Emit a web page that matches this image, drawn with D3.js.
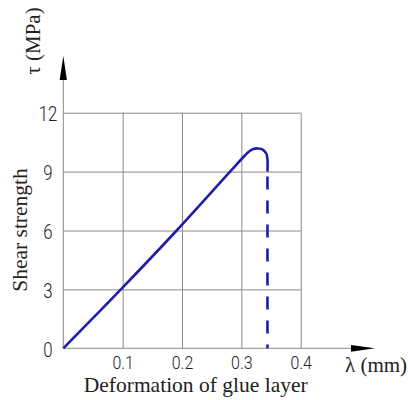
<!DOCTYPE html>
<html>
<head>
<meta charset="utf-8">
<script src="https://cdn.jsdelivr.net/npm/d3@7"></script>
<style>
  html, body { margin: 0; padding: 0; background: #fff; }
  svg { display: block; }
</style>
</head>
<body>
<svg id="chart" width="408" height="400"></svg>
<script>
// Shear strength vs. deformation of the glue layer
const lambdaTicks = [0.1, 0.2, 0.3, 0.4];
const tauTicks = [0, 3, 6, 9, 12];

// Loading curve (solid): linear rise, rounded peak, start of failure
const curveLambda = [0, 0.097, 0.191, 0.281, 0.306, 0.313, 0.320, 0.328, 0.336, 0.342, 0.344, 0.344];
const curveTau    = [0, 3.0,   6.0,   9.0,   9.82,  10.02, 10.15, 10.18, 10.12, 9.92,  9.62,  9.0];

// Failure drop (dashed)
const dropLambda = [0.344, 0.344];
const dropTau    = [9.0, 0];

const svg = d3.select("#chart");

const x = d3.scaleLinear().domain([0, 0.4]).range([63.3, 300.7]);
const y = d3.scaleLinear().domain([0, 12]).range([348.3, 112.7]);

const gridColor = "#8a8a8a";
const lineColor = "#1e1eaa";
const serif = "'Liberation Serif', 'Times New Roman', serif";
const tickFont = "Roboto, 'DejaVu Sans Condensed', sans-serif";

// condense tick labels to a narrow drafting look
function narrowLabels(sel) {
  sel.each(function () {
    const w = this.getComputedTextLength();
    d3.select(this)
      .attr("textLength", (w * 0.84).toFixed(1))
      .attr("lengthAdjust", "spacingAndGlyphs");
  });
}

// vertical grid lines + x tick labels
const xAxis = d3.axisBottom(x)
  .tickValues(lambdaTicks)
  .tickSize(-(y(0) - y(12)))
  .tickSizeOuter(0)
  .tickFormat(d3.format(".1f"));
const gx = svg.append("g")
  .attr("transform", `translate(0,${y(0)})`)
  .call(xAxis);
gx.select(".domain").remove();
gx.selectAll(".tick line").attr("stroke", gridColor).attr("stroke-width", 1);
gx.selectAll(".tick text")
  .attr("y", 21)
  .attr("dy", 0)
  .attr("font-family", tickFont)
  .attr("font-weight", 300)
  .attr("font-size", 19)
  .attr("fill", "#222")
  .call(narrowLabels);

// horizontal grid lines + y tick labels
const yAxis = d3.axisLeft(y)
  .tickValues(tauTicks)
  .tickSize(-(x(0.4) - x(0)))
  .tickSizeOuter(0)
  .tickFormat(d3.format("d"));
const gy = svg.append("g")
  .attr("transform", `translate(${x(0)},0)`)
  .call(yAxis);
gy.select(".domain").remove();
gy.selectAll(".tick line")
  .attr("stroke", gridColor).attr("stroke-width", 1)
  .attr("display", d => d === 0 ? "none" : null);
gy.selectAll(".tick text")
  .attr("x", 48 - x(0))
  .attr("dy", "0.4em")
  .attr("text-anchor", "middle")
  .attr("font-family", tickFont)
  .attr("font-weight", 300)
  .attr("font-size", 20)
  .attr("fill", "#222")
  .call(narrowLabels);

// axes with arrowheads
const axisG = svg.append("g");
axisG.append("line")
  .attr("x1", x(0)).attr("y1", y(0))
  .attr("x2", 356).attr("y2", y(0))
  .attr("stroke", gridColor).attr("stroke-width", 1);
axisG.append("line")
  .attr("x1", x(0)).attr("y1", y(0))
  .attr("x2", x(0)).attr("y2", 78)
  .attr("stroke", gridColor).attr("stroke-width", 1);
axisG.append("path")
  .attr("d", `M${x(0)},56 L${x(0) + 3.6},80 L${x(0) - 3.6},80 Z`)
  .attr("fill", "#000");
axisG.append("path")
  .attr("d", `M375,${y(0)} L351,${y(0) - 3.4} L351,${y(0) + 3.4} Z`)
  .attr("fill", "#000");

// curve
const pts = curveLambda.map((l, i) => [l, curveTau[i]]);
const line = d3.line()
  .x(d => x(d[0]))
  .y(d => y(d[1]))
  .curve(d3.curveCatmullRom.alpha(0.5));
svg.append("path")
  .datum(pts)
  .attr("d", line)
  .attr("fill", "none")
  .attr("stroke", lineColor)
  .attr("stroke-width", 2.6)
  .attr("stroke-linejoin", "round");

const dropPts = dropLambda.map((l, i) => [l, dropTau[i]]);
svg.append("path")
  .datum(dropPts)
  .attr("d", d3.line().x(d => x(d[0])).y(d => y(d[1])))
  .attr("fill", "none")
  .attr("stroke", lineColor)
  .attr("stroke-width", 2.6)
  .attr("stroke-dasharray", "0,5,13,6");

// axis titles
svg.append("text")
  .attr("transform", "translate(39.5,41) rotate(-90)")
  .attr("text-anchor", "middle")
  .attr("font-family", serif)
  .attr("font-size", 21)
  .attr("fill", "#222")
  .text("τ (MPa)");

svg.append("text")
  .attr("transform", "translate(26.5,230) rotate(-90)")
  .attr("text-anchor", "middle")
  .attr("font-family", serif)
  .attr("font-size", 21.5)
  .attr("fill", "#222")
  .text("Shear strength");

svg.append("text")
  .attr("x", 195.7).attr("y", 392)
  .attr("text-anchor", "middle")
  .attr("font-family", serif)
  .attr("font-size", 21.5)
  .attr("fill", "#222")
  .text("Deformation of glue layer");

svg.append("text")
  .attr("x", 345).attr("y", 372)
  .attr("font-family", serif)
  .attr("font-size", 21)
  .attr("fill", "#222")
  .text("λ (mm)");
</script>
</body>
</html>
